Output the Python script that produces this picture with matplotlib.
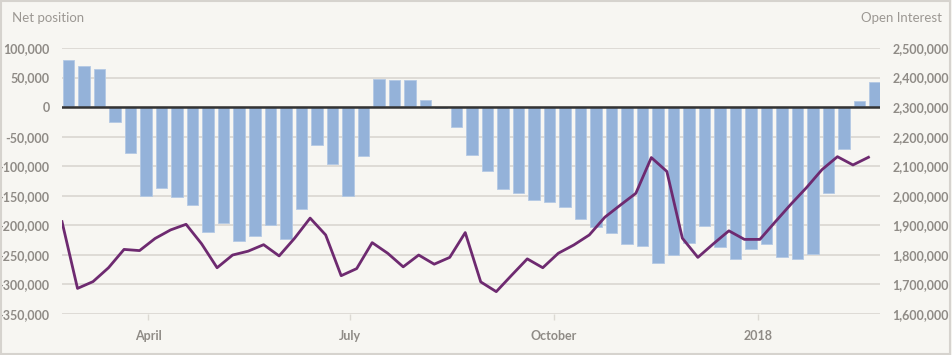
import pandas as pd
import matplotlib
matplotlib.use("Agg")
import matplotlib.pyplot as plt
import matplotlib.dates as mdates
from matplotlib.patches import Rectangle
from matplotlib.ticker import FuncFormatter

# weekly data, Feb 2017 - Feb 2018
net_position = [80000, 69000, 65000, -26000, -78000, -150000, -137000, -153000, -165000, -211000,
                -197000, -226000, -219000, -200000, -224000, -172000, -65000, -96000, -150000, -83000,
                48000, 46000, 45000, 12000, -1000, -34000, -81000, -108000, -139000, -146000,
                -158000, -160000, -170000, -190000, -203000, -214000, -232000, -236000, -264000, -250000,
                -230000, -201000, -237000, -258000, -240000, -232000, -253000, -258000, -248000, -146000,
                -71000, 11000, 43000]
open_interest = [1912000, 1686000, 1709000, 1756000, 1818000, 1814000, 1855000, 1884000, 1903000, 1837000,
                 1756000, 1799000, 1812000, 1834000, 1796000, 1856000, 1924000, 1867000, 1729000, 1753000,
                 1841000, 1805000, 1759000, 1799000, 1768000, 1791000, 1875000, 1708000, 1675000, 1731000,
                 1786000, 1756000, 1805000, 1833000, 1867000, 1927000, 1968000, 2008000, 2129000, 2082000,
                 1856000, 1791000, 1837000, 1881000, 1852000, 1852000, 1912000, 1971000, 2027000, 2088000,
                 2132000, 2104000, 2130000]
weeks = pd.date_range("2017-02-21", periods=len(net_position), freq="7D")
tick_dates = ["2017-04-01", "2017-07-01", "2017-10-01", "2018-01-01"]
tick_labels = ["April", "July", "October", "2018"]

bg = "#f7f6f2"
txt = "#8f8b86"
grid_c = "#dcd9d3"

plt.rcParams["font.family"] = ["Lato", "DejaVu Sans"]

fig = plt.figure(figsize=(9.52, 3.55), dpi=100, facecolor=bg)
ax = fig.add_axes([62/952, 1-313.8/355, (880-62)/952, (313.8-48)/355])
ax.set_facecolor(bg)

line_x = mdates.date2num(weeks)
bar_x = line_x + 3

ax.bar(bar_x, net_position, width=5.2, color="#94b2d9", edgecolor="#b4c9e4",
       linewidth=0.6, zorder=2)
ax.axhline(0, color="#333333", linewidth=1.8, zorder=3)

ax.set_ylim(-350000, 100000)
ax.set_yticks(range(-350000, 100001, 50000))
ax.yaxis.set_major_formatter(FuncFormatter(lambda v, p: f"{int(v):,}"))
ax.grid(axis="y", color=grid_c, linewidth=1.3, zorder=0)
ax.set_axisbelow(True)
ax.set_xlim(line_x[0], mdates.date2num(pd.Timestamp("2018-02-25 05:00")))

ax.set_xticks(mdates.date2num(pd.to_datetime(tick_dates)))
ax.set_xticklabels(tick_labels)

for s in ax.spines.values():
    s.set_visible(False)
ax.tick_params(axis="y", length=0, pad=9, labelsize=9, labelcolor=txt)
ax.tick_params(axis="x", length=4, width=1, color=grid_c, pad=8, labelsize=9, labelcolor=txt)
for lab in ax.get_yticklabels() + ax.get_xticklabels():
    lab.set_fontweight("bold")

ax2 = ax.twinx()
ax2.plot(line_x, open_interest, color="#6e2a70", linewidth=2, zorder=4)
ax2.set_ylim(1600000, 2500000)
ax2.set_yticks(range(1600000, 2500001, 100000))
ax2.yaxis.set_major_formatter(FuncFormatter(lambda v, p: f"{int(v):,}"))
ax2.tick_params(axis="y", length=0, pad=9, labelsize=9, labelcolor=txt)
for lab in ax2.get_yticklabels():
    lab.set_fontweight("bold")
for s in ax2.spines.values():
    s.set_visible(False)

fig.text(12/952, 1-18/355, "Net position", ha="left", va="center", fontsize=9.5, color="#9c9893")
fig.text(942/952, 1-18/355, "Open Interest", ha="right", va="center", fontsize=9.5, color="#9c9893")

fig.patches.append(Rectangle((0.001, 0.002), 0.997, 0.995, transform=fig.transFigure,
                             fill=False, edgecolor="#d6d3ce", linewidth=1.5))

fig.savefig("out.png", dpi=100, facecolor=bg)
